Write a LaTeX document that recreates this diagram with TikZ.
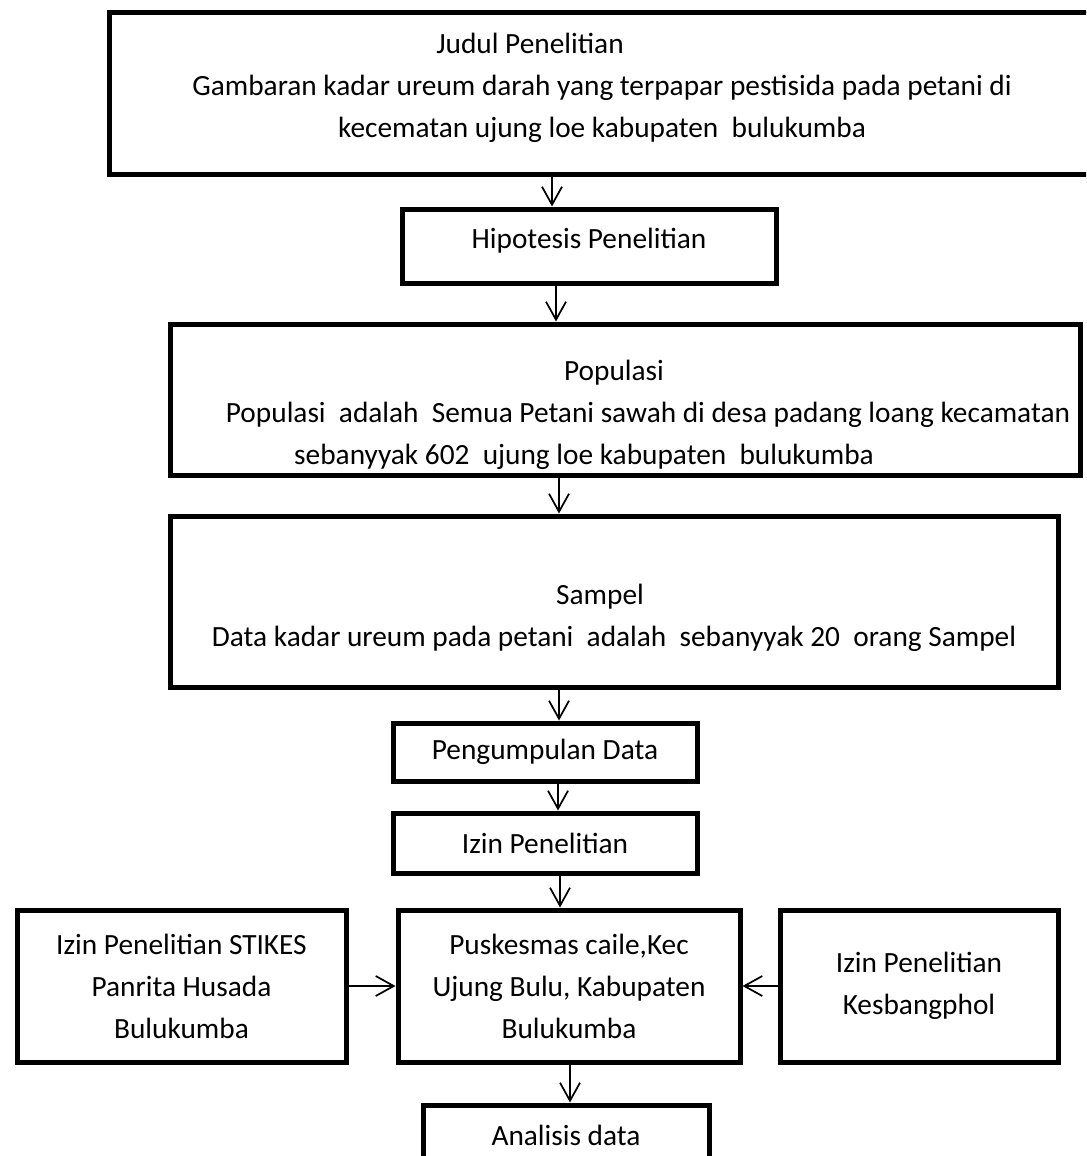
\documentclass[tikz,border=0pt]{standalone}
\usepackage{fontspec}
\setmainfont{Carlito}
\usetikzlibrary{arrows.meta,positioning}

\begin{document}
\begin{tikzpicture}[x=0.75pt,y=-0.75pt,
  box/.style={draw,line width=3.75pt,inner sep=0pt,align=center,font=\fontsize{22}{31.5}\selectfont},
  txt/.style={align=center,inner sep=0pt,font=\fontsize{22}{31.5}\selectfont},
  arr/.style={-{Straight Barb[length=13.5pt,width=15pt]},line width=1.3pt}]

  \path[use as bounding box,clip] (0,0) rectangle (1086,1156);

  % Judul penelitian
  \node[box,minimum width=991*0.75pt,minimum height=161*0.75pt] (judul) at (605,93.5) {};
  \node[txt] (judulTxt) at (602,88) {Judul Penelitian\hspace*{108pt}\\
    Gambaran kadar ureum darah yang terpapar pestisida pada petani di\\
    kecematan ujung loe kabupaten~ bulukumba};

  % Hipotesis
  \node[box,minimum width=374*0.75pt,minimum height=74*0.75pt] (hipo) at (589,246) {};
  \node[txt] (hipoTxt) at (589,241) {Hipotesis Penelitian};

  % Populasi
  \node[box,minimum width=910*0.75pt,minimum height=151*0.75pt] (populasi) at (625,399.5) {};
  \node[txt] (populasiTxt) at (625,415) {Populasi\hspace*{16.5pt}\\
    \hspace*{34.5pt}Populasi~ adalah~ Semua Petani sawah di desa padang loang kecamatan\\
    sebanyyak 602~ ujung loe kabupaten~ bulukumba\hspace*{61.5pt}};

  % Sampel
  \node[box,minimum width=888*0.75pt,minimum height=171*0.75pt] (sampel) at (614,601.5) {};
  \node[txt] (sampelTxt) at (614,618) {Sampel\hspace*{21pt}\\
    Data kadar ureum pada petani~ adalah~ sebanyyak 20~ orang Sampel};

  % Pengumpulan dan izin
  \node[box,minimum width=304*0.75pt,minimum height=58*0.75pt] (kumpul) at (545,752) {Pengumpulan Data};
  \node[box,minimum width=304*0.75pt,minimum height=60*0.75pt] (izin) at (545,843) {Izin Penelitian};

  % Baris tiga kotak
  \node[box,minimum width=329*0.75pt,minimum height=152*0.75pt] (stikes) at (181.5,986) {Izin Penelitian STIKES\\ Panrita Husada\\ Bulukumba};
  \node[box,minimum width=342*0.75pt,minimum height=152*0.75pt] (puskesmas) at (569,986) {Puskesmas caile,Kec\\ Ujung Bulu, Kabupaten\\ Bulukumba};
  \node[box,minimum width=278*0.75pt,minimum height=152*0.75pt] (kesbang) at (919,986) {Izin Penelitian\\ Kesbangphol};

  % Analisis
  \node[box,minimum width=286*0.75pt,minimum height=60*0.75pt] (analisis) at (566,1135) {Analisis data};

  % Panah
  \draw[arr] (judul.south -| 552,0) -- (hipo.north -| 552,0);
  \draw[arr] (hipo.south -| 556,0) -- (populasi.north -| 556,0);
  \draw[arr] (populasi.south -| 559,0) -- (sampel.north -| 559,0);
  \draw[arr] (sampel.south -| 559,0) -- (kumpul.north -| 559,0);
  \draw[arr] (kumpul.south -| 558,0) -- (izin.north -| 558,0);
  \draw[arr] (izin.south -| 560,0) -- (puskesmas.north -| 560,0);
  \draw[arr] (stikes.east) -- (puskesmas.west);
  \draw[arr] (kesbang.west) -- (puskesmas.east);
  \draw[arr] (puskesmas.south -| 570,0) -- (analisis.north -| 570,0);
\end{tikzpicture}
\end{document}
